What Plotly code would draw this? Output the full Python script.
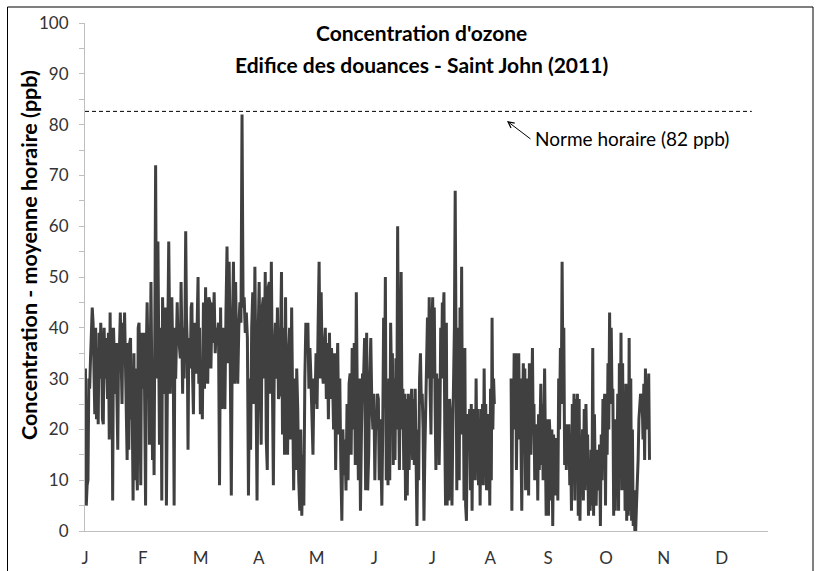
import plotly.graph_objects as go

# ---------------- data ----------------
month_labels = ["J", "F", "M", "A", "M", "J", "J", "A", "S", "O", "N", "D"]

jan = [32, 5, 9, 10, 30, 28, 34, 40, 44, 41, 29, 23, 40, 22, 36, 21, 39, 30, 41, 36, 22, 21, 40, 30,
       38, 29, 26, 39, 18, 43, 25, 40, 6, 40, 30, 27, 37, 26, 16, 37, 36, 43, 30, 25, 41, 34, 43, 35,
       26, 14, 37, 16, 37, 38, 22, 23, 6, 35, 10, 32, 15, 8, 40, 41, 28, 9, 39, 30]
feb = [28, 39, 20, 5, 36, 45, 35, 40, 17, 44, 49, 31, 14, 30, 11, 41, 72, 40, 30, 57, 43, 17, 40, 34,
       6, 46, 38, 27, 30, 44, 5, 38, 42, 57, 34, 27, 40, 46, 37, 29, 5, 40, 30, 42, 45, 37, 39, 36,
       34, 49, 38, 27, 40, 30, 41, 59, 42, 37, 16, 38, 36, 32, 44, 45, 30, 23, 38, 41, 32, 31, 42, 50,
       29, 40, 23]
mar = [30, 22, 45, 28, 48, 31, 29, 46, 45, 32, 45, 37, 47, 35, 40, 38, 41, 9, 44, 24, 40, 26, 24, 43,
       56, 33, 53, 33, 7, 40, 53, 29, 49, 35, 29, 40, 45, 41, 82, 44, 46, 39, 43, 38, 7, 30, 16, 40,
       47, 25, 52, 30, 6, 38]
apr = [49, 30, 17, 44, 46, 30, 51, 18, 12, 48, 49, 27, 53, 30, 9, 35, 41, 30, 44, 26, 27, 37, 51, 19,
       40, 15, 46, 20, 15, 35, 40, 18, 44, 25, 8, 30, 12, 32, 24, 10, 4, 20, 3, 15, 5, 30, 41, 35,
       41, 28, 36, 30, 20, 15, 30, 25, 35]
may = [24, 40, 53, 30, 47, 32, 29, 36, 40, 26, 37, 22, 39, 26, 36, 30, 20, 35, 12, 28, 37, 19, 30, 13,
       2, 20, 11, 18, 8, 25, 10, 29, 31, 15, 36, 20, 37, 13, 47, 25, 10, 30, 4, 20, 31, 30, 38, 8,
       39, 8, 15, 30, 38, 25, 20, 27]
jun = [10, 22, 20, 27, 26, 10, 22, 14, 5, 20, 42, 25, 50, 10, 21, 9, 30, 10, 41, 30, 35, 13, 30, 14,
       34, 20, 60, 28, 12, 30, 51, 20, 28, 12, 27, 6, 26, 7, 27, 12, 20, 25, 28, 14, 26, 13, 28, 12,
       1, 20, 10, 30, 35, 25, 27, 20, 2, 15, 27, 33, 42, 30, 46, 28, 19, 40]
jul = [46, 30, 44, 25, 12, 31, 15, 30, 13, 22, 40, 30, 45, 41, 47, 20, 5, 41, 5, 25, 6, 26, 23, 15,
       5, 20, 27, 40, 67, 35, 8, 35, 40, 10, 44, 20, 52, 19, 34, 6, 36, 5, 2, 20, 23, 20, 24, 8,
       25, 4, 24, 12, 24, 10, 30, 15, 24, 9, 22, 5, 24, 10, 25, 9, 32, 15, 25, 8, 23, 17, 20, 5]
aug = [28, 10, 42, 20, 30, 25,
       None, None, None, None, None, None, None, None, None, None, None,
       None, None, None, None, None, None, None, None, None, None,
       30, 4, 27, 20, 35, 20, 35, 12, 25, 18, 35, 20, 30, 10, 4, 20, 33, 25, 32, 8, 30, 15, 23, 7,
       33, 20, 15, 25, 36, 20, 25, 10, 20, 15, 21, 6, 23, 12, 19, 29, 13, 25, 10, 22, 32, 17, 3, 20, 22]
sep = [3, 22, 18, 6, 20, 1, 19, 14, 7, 18, 18, 6, 30, 20, 36, 25, 53, 30, 40, 13, 20, 12, 21, 15,
       21, 9, 17, 4, 25, 15, 27, 6, 26, 15, 27, 3, 26, 2, 16, 10, 20, 6, 24, 8, 25, 15, 19, 3,
       12, 4, 16, 5, 36, 3, 23, 10, 5, 15, 16, 8, 17, 1, 19, 10, 26, 22, 27, 5]
oct_ = [27, 15, 33, 20, 43, 25, 40, 26, 28, 3, 22, 4, 20, 10, 27, 4, 33, 15, 39, 8, 33, 8, 27, 4,
        29, 2, 18, 3, 38, 4, 30, 2, 20, 1, 8, 0, 0, 5, 9, 14, 22, 25, 27, 26, 26, 18, 29, 14,
        32, 20, 28, 20, 31, 14]

monthly_series = [jan, feb, mar, apr, may, jun, jul, aug, sep, oct_]
# fraction of each month covered by the measurements (October ends ~24th)
month_coverage = [1, 1, 1, 1, 1, 1, 1, 1, 1, 0.76]

norme_value = 82.6          # level of the hourly standard line (82 ppb)
norme_end_month = 11.52     # dashed line extent (month units)

# ---------------- build trace ----------------
xs, ys = [], []
for k, (vals, cov) in enumerate(zip(monthly_series, month_coverage)):
    n = len(vals)
    for i, v in enumerate(vals):
        xs.append(k + cov * (i + 0.5) / n)
        ys.append(v)

FONT = "Lato"
fig = go.Figure()
fig.add_trace(go.Scatter(x=xs, y=ys, mode="lines", connectgaps=False,
                         line=dict(color="#404040", width=3), hoverinfo="skip",
                         showlegend=False))
fig.add_trace(go.Scatter(x=[0, norme_end_month], y=[norme_value, norme_value], mode="lines",
                         line=dict(color="black", width=1, dash="4px,3px"),
                         hoverinfo="skip", showlegend=False))

L, R, T, B = 85, 54, 23, 40
W, H = 822, 571
pw, ph = W - L - R, H - T - B

def px(xp):
    return (xp - L) / pw

def py(yp):
    return (H - B - yp) / ph

fig.update_layout(
    width=W, height=H,
    margin=dict(l=L, r=R, t=T, b=B, pad=0, autoexpand=False),
    paper_bgcolor="white", plot_bgcolor="white",
    font=dict(family=FONT, color="#333333"),
    xaxis=dict(range=[0, 11.8], tickvals=list(range(12)), ticktext=month_labels,
               showline=True, linecolor="#BFBFBF", linewidth=1, ticks="",
               showgrid=False, zeroline=False, tickfont=dict(size=17, color="#333333"),
               ticklabelstandoff=12, automargin=False),
    yaxis=dict(range=[0, 100], tickvals=list(range(0, 101, 10)),
               showline=True, linecolor="#BFBFBF", linewidth=1,
               ticks="outside", ticklen=5, tickcolor="#BFBFBF",
               minor=dict(ticks="outside", ticklen=5, tickcolor="#BFBFBF", dtick=5, showgrid=False),
               showgrid=False, zeroline=False, tickfont=dict(size=17, color="#333333"),
               ticklabelstandoff=7, automargin=False),
    shapes=[dict(type="rect", xref="paper", yref="paper",
                 x0=px(7.5), x1=px(813), y0=py(580), y1=py(7),
                 line=dict(color="black", width=1), fillcolor="rgba(0,0,0,0)", layer="above")],
    annotations=[
        dict(text="Concentration d'ozone", xref="paper", yref="paper", x=px(421), y=py(33),
             xanchor="center", yanchor="middle", showarrow=False,
             font=dict(family=FONT, size=21, weight="bold", color="black")),
        dict(text="Edifice des douances - Saint John (2011)", xref="paper", yref="paper",
             x=px(421), y=py(65), xanchor="center", yanchor="middle", showarrow=False,
             font=dict(family=FONT, size=21, weight="bold", color="black")),
        dict(text="Concentration - moyenne horaire (ppb)", xref="paper", yref="paper",
             x=px(29), y=py(255), xanchor="center", yanchor="middle", textangle=-90,
             showarrow=False, font=dict(family=FONT, size=21.5, weight="bold", color="black")),
        dict(text="", x=7.29, y=80.7, xref="x", yref="y", showarrow=True,
             ax=25, ay=19, arrowhead=5, arrowsize=1.2, arrowwidth=1, arrowcolor="black"),
        dict(text="Norme horaire (82 ppb)", x=7.74, y=77.2, xref="x", yref="y",
             xanchor="left", yanchor="middle", showarrow=False,
             font=dict(family=FONT, size=19, color="black")),
    ],
)

fig.write_html("out.html", config={"displayModeBar": False},
               post_script="document.body.style.margin='0';")
